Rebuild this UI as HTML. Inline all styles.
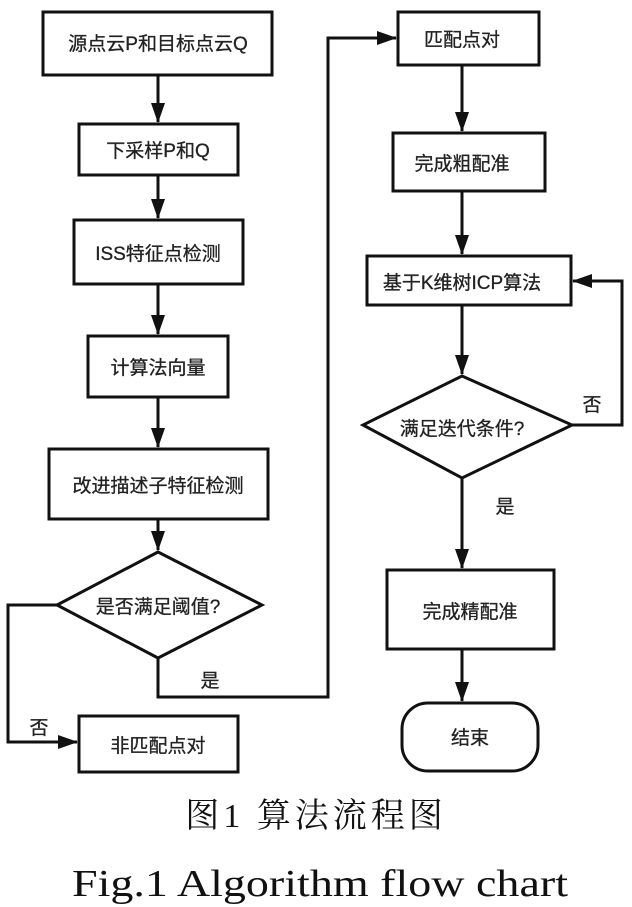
<!DOCTYPE html>
<html><head><meta charset="utf-8"><style>
html,body{margin:0;padding:0;background:#fff;}
svg{display:block;}
text{font-family:"Liberation Sans","Noto Sans CJK SC",sans-serif;fill:#222;}
.s{font-family:"Liberation Serif","Noto Serif CJK SC",serif;fill:#111;}
</style></head><body>
<svg width="632" height="907" viewBox="0 0 632 907" xmlns="http://www.w3.org/2000/svg">
<defs><marker id="a" markerWidth="20" markerHeight="14" refX="19" refY="7" orient="auto" markerUnits="userSpaceOnUse" viewBox="0 0 20 14"><path d="M0,0 L20,7 L0,14 z" fill="#111"/></marker></defs>
<g fill="none" stroke="#111" stroke-width="3">
<rect x="43" y="12" width="229" height="63"/>
<rect x="79" y="124" width="159" height="51"/>
<rect x="74" y="220" width="169" height="64"/>
<rect x="88" y="336" width="140" height="61"/>
<rect x="49" y="449" width="219" height="70"/>
<polygon points="158,552 262,605 158,658 57,605"/>
<rect x="79" y="716" width="159" height="56"/>
<rect x="398" y="12" width="141" height="53"/>
<rect x="393" y="133" width="152" height="58"/>
<rect x="367" y="256" width="204" height="49"/>
<polygon points="462,376 572,425 462,478 363,425"/>
<rect x="387" y="570" width="167" height="79"/>
<rect x="402" y="703" width="136" height="68" rx="26"/>
</g>
<g stroke="#111" stroke-width="3" fill="none">
<line x1="158" y1="75" x2="158" y2="122" marker-end="url(#a)"/>
<line x1="158" y1="175" x2="158" y2="218" marker-end="url(#a)"/>
<line x1="158" y1="284" x2="158" y2="334" marker-end="url(#a)"/>
<line x1="158" y1="397" x2="158" y2="447" marker-end="url(#a)"/>
<line x1="158" y1="519" x2="158" y2="550" marker-end="url(#a)"/>
<polyline points="158,658 158,697 328,697 328,38 396,38" marker-end="url(#a)"/>
<polyline points="57,605 8,605 8,742 77,742" marker-end="url(#a)"/>
<line x1="462" y1="65" x2="462" y2="131" marker-end="url(#a)"/>
<line x1="462" y1="191" x2="462" y2="254" marker-end="url(#a)"/>
<line x1="462" y1="305" x2="462" y2="374" marker-end="url(#a)"/>
<polyline points="572,425 622,425 622,281 573,281" marker-end="url(#a)"/>
<line x1="462" y1="478" x2="462" y2="568" marker-end="url(#a)"/>
<line x1="462" y1="649" x2="462" y2="701" marker-end="url(#a)"/>
</g>
<g font-size="19" text-anchor="middle" stroke="#222" stroke-width="0.3">
<text x="158" y="50">源点云P和目标点云Q</text>
<text x="158" y="157">下采样P和Q</text>
<text x="158" y="260">ISS特征点检测</text>
<text x="158" y="374">计算法向量</text>
<text x="158" y="492">改进描述子特征检测</text>
<text x="158" y="613">是否满足阈值?</text>
<text x="158" y="752">非匹配点对</text>
<text x="462" y="46">匹配点对</text>
<text x="462" y="170">完成粗配准</text>
<text x="462" y="289">基于K维树ICP算法</text>
<text x="462" y="435">满足迭代条件?</text>
<text x="470" y="618">完成精配准</text>
<text x="470" y="744">结束</text>
<text x="210" y="687">是</text>
<text x="39" y="734">否</text>
<text x="505" y="513">是</text>
<text x="592" y="411">否</text>
</g>
<text class="s" x="316" y="827" font-size="34" text-anchor="middle" letter-spacing="4">图1 算法流程图</text>
<text class="s" x="72" y="896" font-size="38" textLength="496" lengthAdjust="spacingAndGlyphs">Fig.1  Algorithm  flow  chart</text>
</svg>
</body></html>
